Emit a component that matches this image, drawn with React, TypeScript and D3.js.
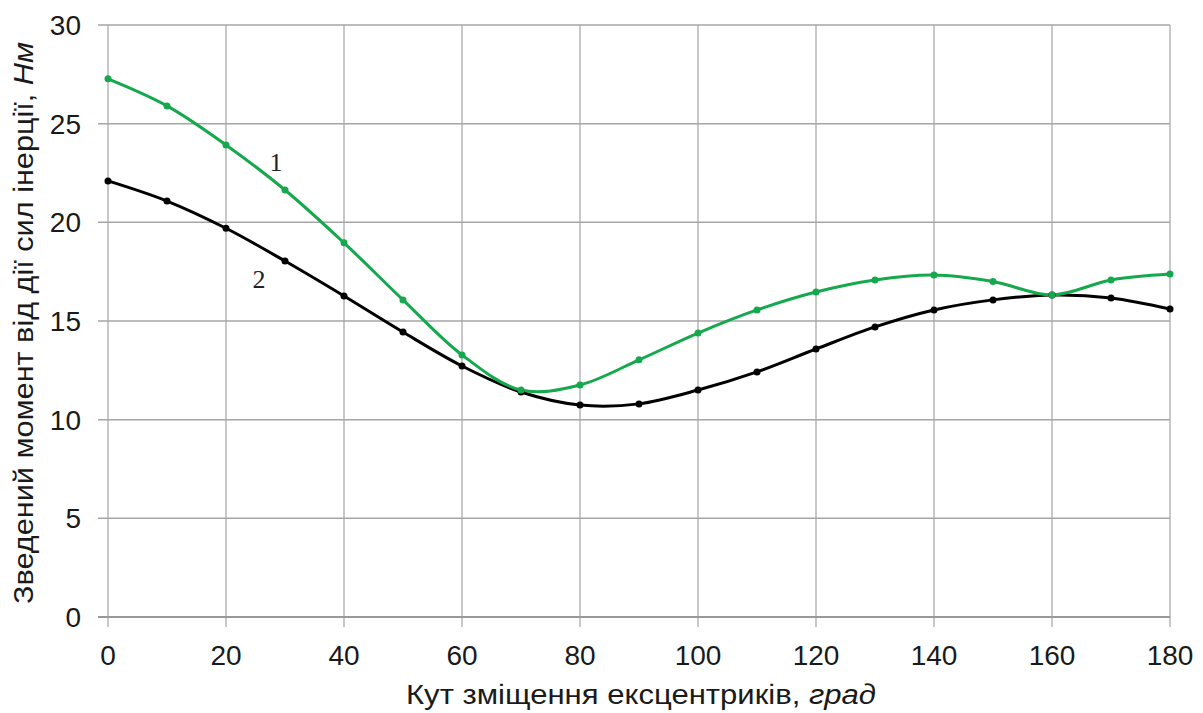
import React from "react";
import * as d3 from "d3";

const angles = [0, 10, 20, 30, 40, 50, 60, 70, 80, 90, 100, 110, 120, 130, 140, 150, 160, 170, 180];
const series1 = [27.27, 25.9, 23.92, 21.64, 18.96, 16.07, 13.28, 11.5, 11.76, 13.03, 14.39, 15.56, 16.47, 17.08, 17.33, 17.0, 16.32, 17.08, 17.38];
const series2 = [22.1, 21.08, 19.7, 18.04, 16.27, 14.44, 12.72, 11.4, 10.74, 10.8, 11.5, 12.42, 13.58, 14.7, 15.56, 16.07, 16.32, 16.17, 15.61];
const xTicks = [0, 20, 40, 60, 80, 100, 120, 140, 160, 180];
const yTicks = [0, 5, 10, 15, 20, 25, 30];

export default function App() {
  const W = 1203, H = 713;
  const x = d3.scaleLinear().domain([0, 180]).range([108, 1170]);
  const y = d3.scaleLinear().domain([0, 30]).range([617, 25]);
  const line = d3.line<number>().x((_, i) => x(angles[i])).y((d) => y(d)).curve(d3.curveCatmullRom.alpha(0.5));
  const green = "#15a84d";
  const sans = "'Liberation Sans', Arial, sans-serif";
  return (
    <svg width={W} height={H} style={{ position: "absolute", left: 0, top: 0, background: "#fff" }}>
      <rect width={W} height={H} fill="#fff" />
      {xTicks.map((t) => (
        <line key={"vx" + t} x1={x(t)} x2={x(t)} y1={y(30)} y2={y(0) + 10} stroke="#c8c8c8" strokeWidth={2} />
      ))}
      {yTicks.map((t) => (
        <line key={"hy" + t} x1={98} x2={x(180)} y1={y(t)} y2={y(t)} stroke={t === 0 ? "#999" : "#a6a6a6"} strokeWidth={t === 0 ? 2 : 1.5} />
      ))}
      {yTicks.map((t) => (
        <text key={"ly" + t} x={81} y={y(t)} dy="0.36em" textAnchor="end" fontFamily={sans} fontSize={28} fill="#1a1a1a">{t}</text>
      ))}
      {xTicks.map((t) => (
        <text key={"lx" + t} x={x(t)} y={665} textAnchor="middle" fontFamily={sans} fontSize={28} fill="#1a1a1a">{t}</text>
      ))}
      <path d={line(series2) || ""} fill="none" stroke="#000" strokeWidth={3} />
      <path d={line(series1) || ""} fill="none" stroke={green} strokeWidth={3} />
      {series2.map((v, i) => (
        <circle key={"p2" + i} cx={x(angles[i])} cy={y(v)} r={3.5} fill="#000" />
      ))}
      {series1.map((v, i) => (
        <circle key={"p1" + i} cx={x(angles[i])} cy={y(v)} r={3.5} fill={green} />
      ))}
      <text x={276} y={171} textAnchor="middle" fontFamily="'Liberation Serif', serif" fontSize={26} fill="#222">1</text>
      <text x={259} y={288} textAnchor="middle" fontFamily="'Liberation Serif', serif" fontSize={26} fill="#222">2</text>
      <text x={641} y={704} textAnchor="middle" fontFamily={sans} fontSize={27} fill="#1a1a1a" textLength={470} lengthAdjust="spacingAndGlyphs">
        Кут зміщення ексцентриків, <tspan fontStyle="italic">град</tspan>
      </text>
      <text transform="translate(33,323) rotate(-90)" textAnchor="middle" fontFamily={sans} fontSize={27} fill="#1a1a1a" textLength={562} lengthAdjust="spacingAndGlyphs">
        Зведений момент від дії сил інерції, <tspan fontStyle="italic">Нм</tspan>
      </text>
    </svg>
  );
}
